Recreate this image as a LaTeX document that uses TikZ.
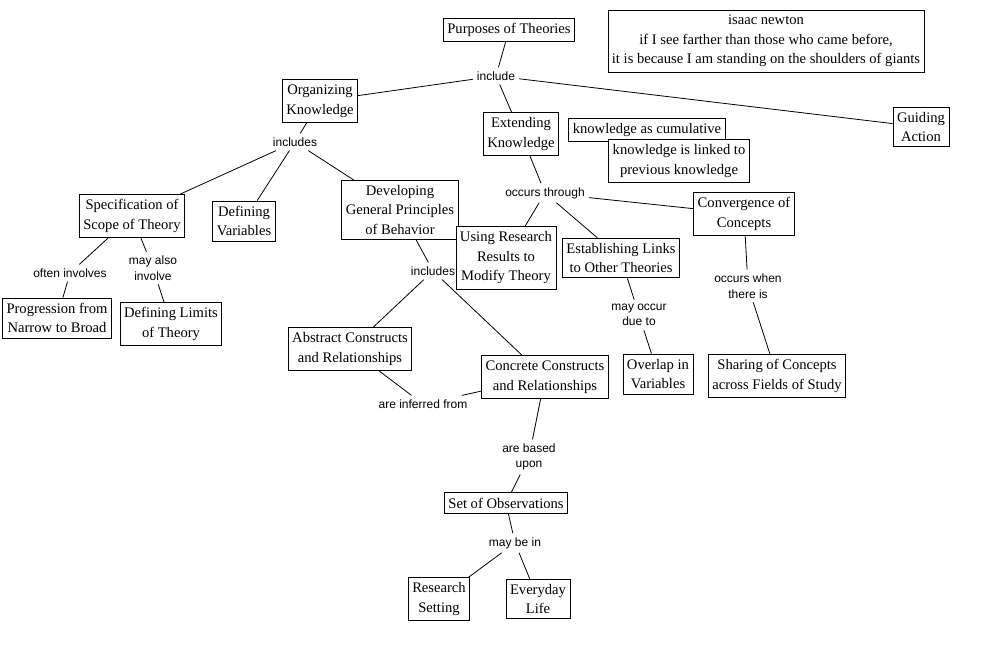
\documentclass[tikz,border=0pt]{standalone}
\usepackage{fontspec}
\setmainfont{Liberation Serif}
\newfontfamily\linkfont{Liberation Sans}
\tikzset{
  concept/.style={draw, fill=white, line width=0.8pt, align=center, inner xsep=4pt, inner ysep=5pt, font=\fontsize{14.6}{19.5}\selectfont},
  linkword/.style={align=center, inner sep=4pt, font=\linkfont\fontsize{12}{15.5}\selectfont}
}
\newcommand{\joindraw}[2]{\draw[line width=0.8pt] (#1) -- (#2)}

\begin{document}
\begin{tikzpicture}[x=1pt, y=-1pt]
                    \useasboundingbox (0,0) rectangle (988,661);

                    \node[concept] (purp) at (509,30) {Purposes of Theories};
                    \node[concept] (newton) at (766,41) {isaac newton\\if I see farther than those who came before,\\it is because I am standing on the shoulders of giants};
                    \node[linkword] (incl) at (496,76) {include};
                    \node[concept] (org) at (320,101) {Organizing\\Knowledge};
                    \node[concept] (ext) at (521,134) {Extending\\Knowledge};
                    \node[concept] (guide) at (921,127) {Guiding\\Action};
                    \node[concept] (cumul) at (647,130) {knowledge as cumulative};
                    \node[concept] (linked) at (679,161) {knowledge is linked to\\previous knowledge};

                    \node[linkword] (orgincl) at (295,142) {includes};
                    \node[linkword] (through) at (545,193) {occurs through};
                    \node[concept] (scope) at (132,216) {Specification of\\Scope of Theory};
                    \node[concept] (vars) at (244,221) {Defining\\Variables};
                    \node[concept] (princ) at (400,210) {Developing\\General Principles\\of Behavior};
                    \node[concept] (conv) at (744,214) {Convergence of\\Concepts};
                    \node[linkword] (princincl) at (433,271) {includes};
                    \node[concept] (using) at (506,258) {Using Research\\Results to\\Modify Theory};
                    \node[concept] (links) at (621,258) {Establishing Links\\to Other Theories};

                    \node[linkword] (often) at (70,273) {often involves};
                    \node[linkword] (also) at (153,268) {may also\\involve};
                    \node[concept] (narrow) at (57,318) {Progression from\\Narrow to Broad};
                    \node[concept] (limits) at (171,324) {Defining Limits\\of Theory};
                    \node[linkword] (due) at (639,315) {may occur\\due to};
                    \node[linkword] (when) at (748,286) {occurs when\\there is};
                    \node[concept] (abstr) at (350,349) {Abstract Constructs\\and Relationships};
                    \node[concept] (concr) at (545,377) {Concrete Constructs\\and Relationships};
                    \node[concept] (overlap) at (658,374) {Overlap in\\Variables};
                    \node[concept] (sharing) at (777,376) {Sharing of Concepts\\across Fields of Study};

                    \node[linkword] (inferred) at (423,404) {are inferred from};
                    \node[linkword] (based) at (529,457) {are based\\upon};
                    \node[concept] (obs) at (506,503) {Set of Observations};
                    \node[linkword] (maybe) at (515,543) {may be in};
                    \node[concept] (setting) at (439,599) {Research\\Setting};
                    \node[concept] (life) at (538,599) {Everyday\\Life};

                    \joindraw{purp}{incl};
                    \joindraw{incl}{org};
                    \joindraw{incl}{ext};
                    \joindraw{incl}{guide};
                    \joindraw{org}{orgincl};
                    \joindraw{orgincl}{scope};
                    \joindraw{orgincl}{vars};
                    \joindraw{orgincl}{princ};
                    \joindraw{ext}{through};
                    \joindraw{through}{using};
                    \joindraw{through}{links};
                    \joindraw{through}{conv};

                    \joindraw{scope}{often};
                    \joindraw{often}{narrow};
                    \joindraw{scope}{also};
                    \joindraw{also}{limits};
                    \joindraw{princ}{princincl};
                    \joindraw{princincl}{abstr};
                    \joindraw{princincl}{concr};
                    \joindraw{links}{due};
                    \joindraw{due}{overlap};
                    \joindraw{conv}{when};
                    \joindraw{when}{sharing};

                    \joindraw{abstr}{inferred};
                    \joindraw{inferred}{concr};
                    \joindraw{concr}{based};
                    \joindraw{based}{obs};
                    \joindraw{obs}{maybe};
                    \joindraw{maybe}{setting};
                    \joindraw{maybe}{life};
                \end{tikzpicture}
\end{document}
